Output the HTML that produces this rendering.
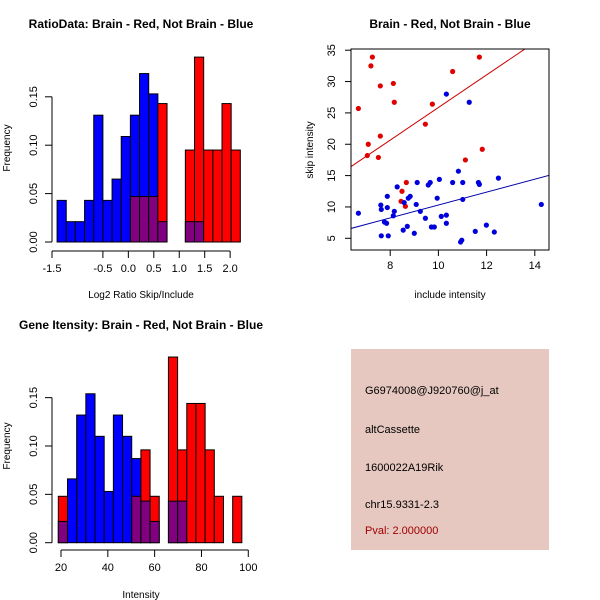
<!DOCTYPE html>
<html><head><meta charset="utf-8"><style>
html,body{margin:0;padding:0;background:#fff}
svg{display:block;font-family:"Liberation Sans",Arial,sans-serif}
</style></head><body>
<svg id="chart" width="600" height="600" viewBox="0 0 600 600" xmlns="http://www.w3.org/2000/svg">
<rect width="600" height="600" fill="#fff"/>
</svg>
<script>
// ---- Ratio histogram data (density per bin) ----
const ratioBinStart = -1.4;
const ratioBinWidth = 0.18;
const ratioBlue = [0.043,0.021,0.021,0.043,0.131,0.043,0.065,0.109,0.131,0.174,0.153,0.021,0,0,0.021,0.021,0,0,0,0];
const ratioRed  = [0,0,0,0,0,0,0,0,0.047,0.047,0.047,0.143,0,0,0.095,0.191,0.095,0.095,0.143,0.095];
const ratioXTicks = [-1.5,-0.5,0.0,0.5,1.0,1.5,2.0];
const ratioXTickLabels = ["-1.5","-0.5","0.0","0.5","1.0","1.5","2.0"];
const ratioYTicks = [0,0.05,0.10,0.15];
const ratioYTickLabels = ["0.00","0.05","0.10","0.15"];

// ---- Intensity histogram data ----
const intBinStart = 18.85;
const intBinWidth = 3.92;
const intBlue = [0.022,0.066,0.132,0.154,0.110,0.053,0.132,0.110,0.087,0.043,0.022,0,0.043,0.043,0,0,0,0,0,0];
const intRed  = [0.048,0,0,0,0,0,0,0,0.048,0.096,0.048,0,0.192,0.096,0.144,0.144,0.096,0.048,0,0.048];
const intXTicks = [20,40,60,80,100];
const intXTickLabels = ["20","40","60","80","100"];
const intYTicks = [0,0.05,0.10,0.15];
const intYTickLabels = ["0.00","0.05","0.10","0.15"];

// ---- Scatter data ----
const redX = [6.68,7.26,7.20,7.59,8.13,8.17,7.09,7.05,7.51,7.59,9.75,9.46,10.59,11.70,11.82,11.12,8.67,8.49,8.45,8.63];
const redY = [25.7,33.9,32.5,29.3,29.7,26.7,20.0,18.2,17.9,21.3,26.4,23.2,31.6,33.9,19.2,17.5,13.9,12.5,10.9,10.1];
const blueX = [6.68,7.61,7.63,7.88,7.88,7.76,7.85,7.63,7.92,8.13,8.17,8.29,8.54,8.58,8.71,8.75,8.83,9.00,9.08,9.12,9.25,9.46,9.58,9.66,9.71,9.83,9.95,10.04,10.12,10.33,10.33,10.33,10.59,10.83,10.92,10.97,11.01,11.01,11.28,11.53,11.66,11.70,11.99,12.32,12.49,14.27];
const blueY = [9.0,10.3,9.6,9.9,11.7,7.6,7.4,5.4,5.4,8.6,9.3,13.2,6.3,10.7,6.9,11.4,11.7,5.8,10.4,13.9,9.3,8.2,13.5,13.9,6.8,6.8,11.4,14.4,8.5,8.7,7.4,28.0,13.9,15.7,4.4,4.7,13.9,11.2,26.7,6.1,13.9,13.6,7.1,6.0,14.6,10.4];
const redFit = [-0.14, 2.6];   // intercept, slope
const blueFit = [0.01, 1.03];
const scXTicks = [8,10,12,14];
const scXTickLabels = ["8","10","12","14"];
const scYTicks = [5,10,15,20,25,30,35];
const scYTickLabels = ["5","10","15","20","25","30","35"];

const NS = "http://www.w3.org/2000/svg";
const svg = document.getElementById("chart");
function mk(tag, attrs, parent){
  const e = document.createElementNS(NS, tag);
  for (const k in attrs) e.setAttribute(k, attrs[k]);
  (parent||svg).appendChild(e);
  return e;
}
function txt(str, x, y, opts, parent){
  const t = mk("text", Object.assign({x:x, y:y, "font-size":11, fill:"#000", "text-anchor":"middle"}, opts||{}), parent);
  t.textContent = str;
  return t;
}

function histogram(cfg){
  const g = mk("g", {});
  
  
  const X = v => cfg.x0px + (v - cfg.x0) * cfg.xs;
  const Y = v => cfg.y0px - v * cfg.ys;
  for (let i = 0; i < cfg.blue.length; i++){
    const b = cfg.blue[i], r = cfg.red[i];
    const xl = X(cfg.binStart + i*cfg.binWidth), xr = X(cfg.binStart + (i+1)*cfg.binWidth);
    const mx = Math.max(b, r), mn = Math.min(b, r);
    if (mx > 0){
      const bar = mk("rect", {x:xl, y:Y(mx), width:xr-xl, height:Y(0)-Y(mx), fill: b>=r ? "#0000ff" : "#ff0000", stroke:"#000", "stroke-width":1}, g);
      
      
    }
    if (mn > 0){
      const ov = mk("rect", {x:xl, y:Y(mn), width:xr-xl, height:Y(0)-Y(mn), fill:"#800080", stroke:"#000", "stroke-width":1}, g);
      
      
    }
  }
  const yax = mk("g", {}, g);
  
  
  const yT = cfg.yTicks;
  mk("line", {x1:cfg.yAxisX, x2:cfg.yAxisX, y1:Y(yT[0]), y2:Y(yT[yT.length-1]), stroke:"#000"}, yax);
  yT.forEach((v,i)=>{
    mk("line", {x1:cfg.yAxisX-7, x2:cfg.yAxisX, y1:Y(v), y2:Y(v), stroke:"#000"}, yax);
    txt(cfg.yTickLabels[i], 0, 0, {transform:`translate(${cfg.yAxisX-15},${Y(v)}) rotate(-90)`}, yax);
  });
  const xax = mk("g", {}, g);
  
  
  const xT = cfg.xTicks;
  mk("line", {x1:X(xT[0]), x2:X(xT[xT.length-1]), y1:cfg.xAxisY, y2:cfg.xAxisY, stroke:"#000"}, xax);
  xT.forEach((v,i)=>{
    mk("line", {x1:X(v), x2:X(v), y1:cfg.xAxisY, y2:cfg.xAxisY+7, stroke:"#000"}, xax);
    txt(cfg.xTickLabels[i], X(v), cfg.xAxisY+21, {}, xax);
  });
  const t = txt(cfg.title, 141, cfg.titleY, {"font-weight":"bold","font-size":12}, g);
  
  
  const xl = txt(cfg.xLabel, 141, cfg.xLabelY, {"font-size":10}, g);
  
  
  const yl = txt("Frequency", 0, 0, {"font-size":10, transform:`translate(10,${cfg.yLabelY}) rotate(-90)`}, g);
  
  
}

histogram({name:"ratio-histogram", blue:ratioBlue, red:ratioRed, binStart:ratioBinStart, binWidth:ratioBinWidth,
  x0:-1.5, x0px:52, xs:50.9, y0px:242, ys:968, yAxisX:52, xAxisY:251,
  xTicks:ratioXTicks, xTickLabels:ratioXTickLabels, yTicks:ratioYTicks, yTickLabels:ratioYTickLabels,
  title:"RatioData: Brain - Red, Not Brain - Blue", titleY:28, xLabel:"Log2 Ratio Skip/Include", xLabelY:298, yLabelY:148});

histogram({name:"intensity-histogram", blue:intBlue, red:intRed, binStart:intBinStart, binWidth:intBinWidth,
  x0:20, x0px:61, xs:2.341, y0px:542.7, ys:967, yAxisX:52, xAxisY:550,
  xTicks:intXTicks, xTickLabels:intXTickLabels, yTicks:intYTicks, yTickLabels:intYTickLabels,
  title:"Gene Itensity: Brain - Red, Not Brain - Blue", titleY:329, xLabel:"Intensity", xLabelY:598, yLabelY:446});

(function(){
  const g = mk("g", {});
  
  
  const L=351, R=549, T=49, B=250;
  const X = v => 390.2 + (v-8)*24.1;
  const Y = v => 238.3 - (v-5)*6.27;
  const clip = mk("clipPath", {id:"scclip"}, g);
  mk("rect", {x:L, y:T, width:R-L, height:B-T}, clip);
  const fits = [[redFit,"#cc0000","red-fit-line"],[blueFit,"#0000aa","blue-fit-line"]];
  fits.forEach(f=>{
    const x1 = 6.0, x2 = 15.0;
    const ln = mk("line", {x1:X(x1), x2:X(x2), y1:Y(f[0][0]+f[0][1]*x1), y2:Y(f[0][0]+f[0][1]*x2), stroke:f[1], "stroke-width":1, "clip-path":"url(#scclip)"}, g);
    
    
  });
  redX.forEach((v,i)=>{
    const c = mk("circle", {cx:X(v), cy:Y(redY[i]), r:2.6, fill:"#e00000"}, g);
    
    
  });
  blueX.forEach((v,i)=>{
    const c = mk("circle", {cx:X(v), cy:Y(blueY[i]), r:2.6, fill:"#0000dd"}, g);
    
    
  });
  mk("rect", {x:L, y:T, width:R-L, height:B-T, fill:"none", stroke:"#000"}, g);
  scXTicks.forEach((v,i)=>{
    mk("line", {x1:X(v), x2:X(v), y1:B, y2:B+6, stroke:"#000"}, g);
    txt(scXTickLabels[i], X(v), B+19, {}, g);
  });
  scYTicks.forEach((v,i)=>{
    mk("line", {x1:L-6, x2:L, y1:Y(v), y2:Y(v), stroke:"#000"}, g);
    txt(scYTickLabels[i], 0, 0, {transform:`translate(${L-16},${Y(v)}) rotate(-90)`}, g);
  });
  const t = txt("Brain - Red, Not Brain - Blue", 450, 28, {"font-weight":"bold","font-size":12}, g);
  
  
  const xl = txt("include intensity", 450, 298, {"font-size":10}, g);
  
  
  const yl = txt("skip intensity", 0, 0, {"font-size":10, transform:"translate(313,150) rotate(-90)"}, g);
  
  
})();
</script>
<div style="position:absolute;left:351px;top:349px;width:198px;height:201px;background:#e6c8c0;font-family:'Liberation Sans',Arial,sans-serif;font-size:11px;color:#000">
  <div style="position:absolute;left:14px;top:36px">G6974008@J920760@j_at</div>
  <div style="position:absolute;left:14px;top:75px">altCassette</div>
  <div style="position:absolute;left:14px;top:113px">1600022A19Rik</div>
  <div style="position:absolute;left:14px;top:150px">chr15.9331-2.3</div>
  <div style="position:absolute;left:14px;top:176px;color:#a00000">Pval: 2.000000</div>
</div>
</body></html>
